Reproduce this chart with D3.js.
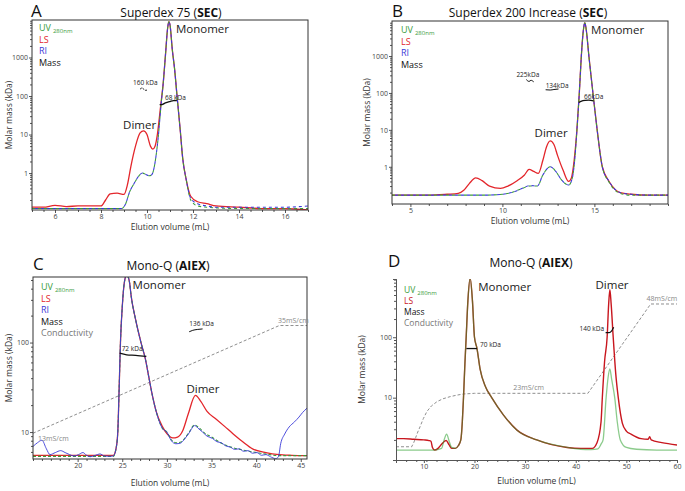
<!DOCTYPE html>
<html>
<head>
<meta charset="utf-8">
<script src="https://cdn.jsdelivr.net/npm/d3@7"></script>
<style>
body { margin: 0; background: #fff; }
svg { font-family: "Open Sans", sans-serif; }
</style>
</head>
<body>
<svg id="chart" width="685" height="491"></svg>
<script>
// Panel A - Superdex 75 (SEC)
var aLS = [[5.0,0.13],[5.5,0.13],[6.0,0.145],[6.5,0.135],[7.0,0.14],[7.5,0.14],[8.0,0.14],[8.2,0.2],[8.4,0.29],[8.7,0.3],[9.0,0.28],[9.15,0.5],[9.3,1.5],[9.5,5],[9.7,11],[9.85,12.5],[10.0,10],[10.15,5],[10.25,4.2],[10.35,5],[10.45,10],[10.6,60],[10.7,200],[10.8,1100],[10.9,6000],[10.95,8500],[11.0,7000],[11.1,1600],[11.2,500],[11.3,110],[11.45,12],[11.55,2.5],[11.7,0.7],[11.9,0.25],[12.2,0.18],[12.6,0.16],[13,0.14],[14,0.13],[15,0.12],[16,0.12],[17,0.11]];
var aUV = [[5,0.12],[6,0.12],[7,0.12],[8,0.12],[8.9,0.12],[9.05,0.15],[9.25,0.33],[9.45,0.55],[9.65,0.85],[9.8,1.0],[9.95,0.92],[10.1,0.85],[10.2,0.9],[10.3,1.3],[10.4,3],[10.5,10],[10.6,50],[10.7,200],[10.8,1100],[10.9,6000],[10.95,8500],[11.0,7000],[11.1,1600],[11.2,500],[11.3,110],[11.45,12],[11.55,2.5],[11.7,0.7],[11.9,0.2],[12.2,0.14],[12.6,0.13],[13,0.125],[14,0.12],[15,0.12],[16,0.12],[17,0.12]];
var aRI = [[5,0.12],[6,0.12],[7,0.12],[8,0.12],[8.9,0.12],[9.05,0.15],[9.25,0.33],[9.45,0.55],[9.65,0.85],[9.8,1.0],[9.95,0.92],[10.1,0.85],[10.2,0.9],[10.3,1.3],[10.4,3],[10.5,10],[10.6,50],[10.7,200],[10.8,1100],[10.9,6000],[10.95,8500],[11.0,7000],[11.1,1600],[11.2,500],[11.3,110],[11.45,12],[11.55,2.5],[11.7,0.7],[11.9,0.22],[12.2,0.16],[12.6,0.14],[13,0.13],[14,0.13],[15,0.13],[16,0.13],[17,0.14]];
var aMassDimer = [[9.7,150],[9.78,162],[9.86,150],[9.95,140],[10.0,143]];
var aMassMono = [[10.55,60],[10.65,60],[10.8,66],[11.0,72],[11.15,76],[11.3,76]];

// Panel B - Superdex 200 Increase (SEC)
var bLS = [[4,0.17],[5,0.17],[6,0.17],[7,0.18],[7.6,0.19],[7.9,0.23],[8.2,0.35],[8.55,0.5],[8.9,0.42],[9.3,0.3],[9.9,0.26],[10.3,0.3],[10.8,0.42],[11.2,0.6],[11.45,0.85],[11.7,0.75],[11.95,0.66],[12.2,1.5],[12.4,3.5],[12.6,5],[12.8,4],[13.0,2],[13.3,0.8],[13.6,0.4],[13.75,0.5],[13.9,1.5],[14.05,10],[14.18,100],[14.29,1000],[14.4,5000],[14.48,8000],[14.56,5000],[14.7,1000],[14.92,100],[15.15,10],[15.43,1],[15.8,0.4],[16.4,0.2],[17,0.18],[18,0.17],[19,0.17]];
var bUV = [[4,0.17],[6,0.17],[8,0.17],[9,0.17],[10,0.18],[10.5,0.2],[11,0.25],[11.5,0.3],[11.9,0.3],[12.2,0.6],[12.6,1.0],[12.9,0.75],[13.2,0.45],[13.6,0.32],[13.8,0.5],[13.95,2],[14.05,10],[14.18,100],[14.29,1000],[14.4,5000],[14.48,8000],[14.56,5000],[14.7,1000],[14.92,100],[15.15,10],[15.43,1],[15.8,0.38],[16.4,0.19],[17,0.17],[18,0.17],[19,0.17]];
var bRI = [[4,0.17],[6,0.17],[8,0.17],[9,0.17],[10,0.18],[10.5,0.2],[11,0.25],[11.5,0.31],[11.9,0.3],[12.2,0.6],[12.6,1.0],[12.9,0.75],[13.2,0.45],[13.6,0.32],[13.8,0.5],[13.95,2],[14.05,10],[14.18,100],[14.29,1000],[14.4,5000],[14.48,8000],[14.56,5000],[14.7,1000],[14.92,100],[15.15,10],[15.43,1],[15.8,0.4],[16.4,0.2],[17,0.18],[18,0.17],[19,0.17]];
var bMass225 = [[11.3,230],[11.45,205],[11.55,220],[11.7,200]];
var bMass134 = [[12.35,122],[12.6,120],[12.8,124],[13.05,128]];
var bMass66 = [[14.15,55],[14.3,60],[14.5,63],[14.7,64],[14.95,61]];

// Panel C - Mono-Q (AIEX)
var cLS = [[15,5.5],[20,5.5],[24,5.5],[24.3,6.5],[24.5,10],[24.65,30],[24.8,100],[25.0,250],[25.25,480],[25.5,570],[25.8,480],[26.0,330],[26.5,180],[27.1,100],[27.6,65],[28.0,40],[28.4,25],[28.8,17],[29.5,11.5],[30.0,9.6],[30.66,8.6],[31.2,8.8],[31.8,10.5],[32.4,16],[33.2,25.7],[33.8,22],[34.5,17],[35.5,14],[36.5,11.5],[37.4,9.6],[38.5,7.8],[39.6,6.5],[40.7,6],[41.8,5.7],[43,5.55],[44,5.5],[45.7,5.45]];
var cUV = [[15,5.35],[20,5.35],[24,5.35],[24.3,6.5],[24.5,10],[24.65,30],[24.8,100],[25.0,250],[25.25,480],[25.5,570],[25.8,480],[26.0,330],[26.5,180],[27.1,100],[27.6,65],[28.0,40],[28.4,25],[28.8,17],[29.5,11],[30,10],[30.5,8.2],[31.0,7.6],[31.5,7.7],[32,8.5],[32.5,10],[33.1,12],[33.6,11.2],[34.2,9.8],[35.1,8.7],[36,7.6],[37.4,6.7],[38.5,6.3],[39.6,6],[40.5,5.8],[41.5,5.6],[42.5,5.45],[44,5.45],[45.7,5.45]];
var cRI = [[15,6.9],[15.5,7.6],[16.0,8.1],[16.5,6.5],[16.9,5.6],[17.5,5.9],[18.1,6.2],[18.6,5.9],[19.1,5.6],[19.6,5.4],[20.1,5.6],[20.6,5.9],[21.0,5.5],[21.4,5.3],[22.0,5.5],[22.5,5.7],[23.0,5.4],[23.6,5.35],[24,5.4],[24.3,6.5],[24.5,10],[24.65,30],[24.8,100],[25.0,250],[25.25,480],[25.5,570],[25.8,480],[26.0,330],[26.5,180],[27.1,100],[27.6,65],[28.0,40],[28.4,25],[28.8,17],[29.5,11],[30,10],[30.5,8],[31,7.4],[31.5,7.5],[32,8.4],[32.5,9.8],[33.1,11.8],[33.6,10.8],[34.0,10],[34.5,9],[35.1,8.5],[35.6,7.8],[36.1,7.6],[36.6,7],[37.1,6.8],[37.6,6.4],[38.1,6.5],[38.6,6.1],[39.1,6.2],[39.6,5.8],[40.1,5.9],[40.6,5.5],[41.1,5.6],[41.6,5.3],[42.2,5.05],[42.5,5.3],[42.75,7.4],[43.2,9.5],[43.7,11.4],[44.3,13],[44.8,14.7],[45.2,16.5],[45.7,18.5]];
var cMassMono = [[24.7,76],[25.5,73],[26.5,72],[27.7,70]];
var cMassDimer = [[32.5,132],[32.9,137],[33.4,140],[34.0,142]];
var cCond = [[15,9.7],[42.6,155],[45.7,155]];

// Panel D - Mono-Q (AIEX)
var dLS = [[4.5,2.1],[6,2.1],[8,2.05],[10,2.0],[11,1.95],[11.4,1.9],[11.7,1.5],[12.1,1.36],[12.8,1.45],[13.5,1.7],[14.4,1.95],[15.0,1.65],[15.5,1.45],[16.2,1.45],[16.8,1.6],[17.3,2.0],[17.6,4],[17.83,10],[18.1,35],[18.36,100],[18.7,400],[19.15,950],[19.6,400],[20.0,100],[20.5,65],[21.1,30],[22.2,15],[23.4,10],[25.7,5.2],[28.4,2.9],[32.3,2.0],[38.3,1.5],[41,1.45],[43.25,1.45],[44.2,1.8],[45.0,4],[45.25,10],[45.7,40],[46.2,100],[46.5,350],[46.74,610],[47.0,350],[47.4,100],[47.9,25],[48.4,10],[49.2,3.8],[50.0,2.8],[50.9,2.5],[52.9,2.1],[54.3,2.05],[54.6,2.25],[54.9,2.0],[57,1.8],[60,1.65]];
var dUV = [[4.5,1.36],[8,1.36],[12,1.36],[13.5,1.45],[14.0,2.0],[14.5,2.5],[15.0,1.9],[15.5,1.5],[16.2,1.45],[16.8,1.6],[17.3,2.0],[17.6,4],[17.83,10],[18.1,35],[18.36,100],[18.7,400],[19.15,950],[19.6,400],[20.0,100],[20.5,65],[21.1,30],[22.2,15],[23.4,10],[25.7,5.2],[28.4,2.9],[32.3,2.0],[38.3,1.5],[41,1.4],[43,1.38],[44.4,1.42],[45.0,1.7],[45.4,2],[46.0,10],[46.4,22],[46.74,30],[47.1,20],[47.7,10],[48.2,4],[48.8,2],[50,1.5],[52,1.4],[56,1.36],[60,1.36]];
var dMassMono = [[18.4,65],[19.5,65],[20.5,65]];
var dMassDimer = [[45.9,119],[46.6,119],[47.1,128],[47.5,146]];
var dCond = [[4.5,1.54],[7.6,1.54],[8.0,1.8],[8.4,2.2],[8.8,2.7],[9.25,3.3],[9.9,4.5],[10.6,5.9],[11.5,7.3],[12.6,8.6],[13.8,9.6],[15.2,10.4],[16.5,11.0],[17.8,11.5],[20,11.8],[42.4,11.8],[54.8,355],[60,355]];

// Colours
var green = '#3a9b3a', red = '#e3262b', blue = '#3a3ad8', grey = '#8f8f8f', darkRed = '#c8161e';

var svg = d3.select('#chart');

function drawPanel(p) {
    var x = d3.scaleLinear().domain(p.xDomain).range([p.left, p.right]);
    var y = d3.scaleLog().domain(p.yDomain).range([p.bottom, p.top]);

    var g = svg.append('g');

    // Clip the traces to the plot area.
    g.append('clipPath')
        .attr('id', 'clip-' + p.id)
        .append('rect')
        .attr('x', p.left)
        .attr('y', p.top)
        .attr('width', p.right - p.left)
        .attr('height', p.bottom - p.top);

    var traces = g.append('g').attr('clip-path', 'url(#clip-' + p.id + ')');

    p.series.forEach(function (s) {
        var line = d3.line()
            .x(function (d) { return x(d[0]); })
            .y(function (d) { return y(d[1]); })
            .curve(s.straight ? d3.curveLinear : d3.curveMonotoneX);

        traces.append('path')
            .datum(s.data)
            .attr('fill', 'none')
            .attr('stroke', s.color)
            .attr('stroke-width', s.width || 1.2)
            .attr('stroke-dasharray', s.dash || null)
            .attr('stroke-dashoffset', s.offset || 0)
            .attr('stroke-opacity', s.opacity || 1)
            .attr('d', line);
    });

    // Axes
    var xAxis = g.append('g')
        .attr('transform', 'translate(0,' + p.bottom + ')')
        .call(d3.axisBottom(x).tickValues(p.xTicks).tickSize(3).tickPadding(1).tickFormat(d3.format('d')));

    var minorX = d3.range(p.xDomain[0], p.xDomain[1] + 0.001, p.xMinor).filter(function (v) {
        return p.xTicks.indexOf(v) < 0;
    });
    var xMinorAxis = g.append('g')
        .attr('transform', 'translate(0,' + p.bottom + ')')
        .call(d3.axisBottom(x).tickValues(minorX).tickSize(2).tickFormat(''));

    var yAxis = g.append('g')
        .attr('transform', 'translate(' + p.left + ',0)')
        .call(d3.axisLeft(y).tickValues(p.yTicks).tickSize(3).tickPadding(1).tickFormat(d3.format('d')));

    var minorY = [];
    for (var k = -2; k < 4; k++) {
        for (var i = 2; i < 10; i++) {
            var v = i * Math.pow(10, k);
            if (v > p.yDomain[0] && v < p.yDomain[1]) {
                minorY.push(v);
            }
        }
    }
    var yMinorAxis = g.append('g')
        .attr('transform', 'translate(' + p.left + ',0)')
        .call(d3.axisLeft(y).tickValues(minorY).tickSize(2).tickFormat(''));

    [xAxis, xMinorAxis, yAxis, yMinorAxis].forEach(function (a) {
        a.selectAll('line').attr('stroke', '#555');
        a.selectAll('text').attr('font-size', 7).attr('fill', '#444').attr('font-family', 'Open Sans');
        a.select('.domain').attr('stroke', p.frame ? 'none' : '#555');
    });

    if (p.frame) {
        g.append('rect')
            .attr('x', p.left)
            .attr('y', p.top)
            .attr('width', p.right - p.left)
            .attr('height', p.bottom - p.top)
            .attr('fill', 'none')
            .attr('stroke', '#333')
            .attr('stroke-width', 1);
    }

    // Panel letter and title
    g.append('text')
        .attr('x', p.letterX)
        .attr('y', p.titleY)
        .attr('font-size', 17)
        .attr('fill', '#111')
        .text(p.letter);

    var title = g.append('text')
        .attr('x', p.titleX)
        .attr('y', p.titleY)
        .attr('text-anchor', 'middle')
        .attr('font-size', 12)
        .attr('fill', '#111');
    title.append('tspan').text(p.title + ' (');
    title.append('tspan').attr('font-weight', 'bold').text(p.titleBold);
    title.append('tspan').text(')');

    // Axis titles
    g.append('text')
        .attr('x', (p.left + p.right) / 2)
        .attr('y', p.xLabelY)
        .attr('text-anchor', 'middle')
        .attr('font-size', 8.5)
        .attr('fill', '#333')
        .text('Elution volume (mL)');

    g.append('text')
        .attr('transform', 'translate(' + p.yLabelX + ',' + (p.top + p.bottom) / 2 + ') rotate(-90)')
        .attr('text-anchor', 'middle')
        .attr('font-size', 8.5)
        .attr('fill', '#333')
        .text('Molar mass (kDa)');

    // Legend
    p.legend.forEach(function (item, idx) {
        var t = g.append('text')
            .attr('x', p.left + p.legendDX)
            .attr('y', p.top + p.legendDY + idx * p.legendStep)
            .attr('font-size', p.legendSize)
            .attr('fill', item.color);
        t.append('tspan').text(item.text);
        if (item.sub) {
            t.append('tspan').attr('font-size', 6).attr('dx', 2).attr('dy', 1.5).text(item.sub);
        }
    });

    // Annotations
    p.labels.forEach(function (l) {
        g.append('text')
            .attr('x', x(l.x))
            .attr('y', y(l.y))
            .attr('font-size', l.size)
            .attr('fill', l.color || '#222')
            .text(l.text);
    });
}

drawPanel({
    id: 'a', letter: 'A', title: 'Superdex 75', titleBold: 'SEC', frame: true,
    left: 32, right: 308, top: 20, bottom: 210,
    xDomain: [5, 17], yDomain: [0.11, 9400],
    xTicks: [6, 8, 10, 12, 14, 16], xMinor: 0.5, yTicks: [1, 10, 100, 1000],
    letterX: 31, titleX: 171, titleY: 17, xLabelY: 230, yLabelX: 12,
    legendDX: 7, legendDY: 11, legendStep: 11.5, legendSize: 9,
    legend: [
        { text: 'UV', sub: '280nm', color: green },
        { text: 'LS', color: red },
        { text: 'RI', color: blue },
        { text: 'Mass', color: '#111' }
    ],
    series: [
        { data: aLS, color: red, width: 1.3 },
        { data: aUV, color: green, width: 1.1, dash: '3,3' },
        { data: aRI, color: blue, width: 1.1, dash: '3,3', offset: 3 },
        { data: aMassDimer, color: '#111', width: 1, dash: '2,1' },
        { data: aMassMono, color: '#111', width: 1.3 }
    ],
    labels: [
        { text: 'Monomer', x: 11.26, y: 4300, size: 11.5 },
        { text: 'Dimer', x: 8.96, y: 13.9, size: 11.5 },
        { text: '160 kDa', x: 9.39, y: 199, size: 6.5 },
        { text: '68 kDa', x: 10.78, y: 81, size: 6.5 }
    ]
});

drawPanel({
    id: 'b', letter: 'B', title: 'Superdex 200 Increase', titleBold: 'SEC', frame: true,
    left: 392, right: 668, top: 21, bottom: 204,
    xDomain: [4, 19], yDomain: [0.098, 8900],
    xTicks: [5, 10, 15], xMinor: 1, yTicks: [1, 10, 100, 1000],
    letterX: 392, titleX: 528, titleY: 17, xLabelY: 224, yLabelX: 370,
    legendDX: 9, legendDY: 12, legendStep: 11.5, legendSize: 9,
    legend: [
        { text: 'UV', sub: '280nm', color: green },
        { text: 'LS', color: red },
        { text: 'RI', color: blue },
        { text: 'Mass', color: '#111' }
    ],
    series: [
        { data: bLS, color: red, width: 1.3 },
        { data: bUV, color: green, width: 1.1, dash: '3,3' },
        { data: bRI, color: blue, width: 1.1, dash: '3,3', offset: 3 },
        { data: bMass225, color: '#111', width: 1 },
        { data: bMass134, color: '#111', width: 1 },
        { data: bMass66, color: '#111', width: 1.3 }
    ],
    labels: [
        { text: 'Monomer', x: 14.82, y: 3900, size: 11.5 },
        { text: 'Dimer', x: 11.75, y: 6.45, size: 11.5 },
        { text: '225kDa', x: 10.76, y: 270, size: 6.5 },
        { text: '134kDa', x: 12.35, y: 136, size: 6.5 },
        { text: '66kDa', x: 14.44, y: 68, size: 6.5 }
    ]
});

drawPanel({
    id: 'c', letter: 'C', title: 'Mono-Q', titleBold: 'AIEX', frame: true,
    left: 33, right: 307, top: 277, bottom: 459,
    xDomain: [15, 45.7], yDomain: [5, 540],
    xTicks: [20, 25, 30, 35, 40, 45], xMinor: 1, yTicks: [10, 100],
    letterX: 33, titleX: 168, titleY: 270, xLabelY: 486, yLabelX: 12,
    legendDX: 8, legendDY: 13, legendStep: 11.5, legendSize: 9,
    legend: [
        { text: 'UV', sub: '280nm', color: green },
        { text: 'LS', color: red },
        { text: 'RI', color: blue },
        { text: 'Mass', color: '#111' },
        { text: 'Conductivity', color: '#777' }
    ],
    series: [
        { data: cCond, color: grey, width: 1, dash: '3,2', straight: true },
        { data: cLS, color: red, width: 1.3 },
        { data: cUV, color: green, width: 1.1, dash: '3,2' },
        { data: cRI, color: blue, width: 0.9 },
        { data: cMassMono, color: '#111', width: 1.3 },
        { data: cMassDimer, color: '#111', width: 1 }
    ],
    labels: [
        { text: 'Monomer', x: 26.16, y: 394, size: 11.5 },
        { text: 'Dimer', x: 32.19, y: 27, size: 11.5 },
        { text: '72 kDa', x: 24.93, y: 80, size: 6.5 },
        { text: '136 kDa', x: 32.52, y: 152, size: 6.5 },
        { text: '13mS/cm', x: 15.56, y: 7.87, size: 7, color: '#888' },
        { text: '35mS/cm', x: 42.45, y: 164, size: 7, color: '#888' }
    ]
});

drawPanel({
    id: 'd', letter: 'D', title: 'Mono-Q', titleBold: 'AIEX', frame: false,
    left: 396, right: 677, top: 279, bottom: 460,
    xDomain: [4.5, 60], yDomain: [0.93, 920],
    xTicks: [10, 20, 30, 40, 50, 60], xMinor: 2, yTicks: [10, 100],
    letterX: 388, titleX: 531, titleY: 267, xLabelY: 484, yLabelX: 365,
    legendDX: 8, legendDY: 14, legendStep: 11, legendSize: 8.5,
    legend: [
        { text: 'UV', sub: '280nm', color: green },
        { text: 'LS', color: darkRed },
        { text: 'Mass', color: '#111' },
        { text: 'Conductivity', color: '#777' }
    ],
    series: [
        { data: dCond, color: grey, width: 1, dash: '3,2', straight: true },
        { data: dLS, color: darkRed, width: 1.4 },
        { data: dUV, color: '#2ea02e', width: 1.3, opacity: 0.55 },
        { data: dMassMono, color: '#111', width: 1.3 },
        { data: dMassDimer, color: '#111', width: 1.2 }
    ],
    labels: [
        { text: 'Monomer', x: 20.74, y: 584, size: 11.5 },
        { text: 'Dimer', x: 43.9, y: 630, size: 11.5 },
        { text: '70 kDa', x: 21.1, y: 68, size: 6.5 },
        { text: '140 kDa', x: 40.74, y: 125, size: 6.5 },
        { text: '23mS/cm', x: 27.67, y: 13.2, size: 7, color: '#888' },
        { text: '48mS/cm', x: 54.0, y: 399, size: 7, color: '#888' }
    ]
});
</script>
</body>
</html>
